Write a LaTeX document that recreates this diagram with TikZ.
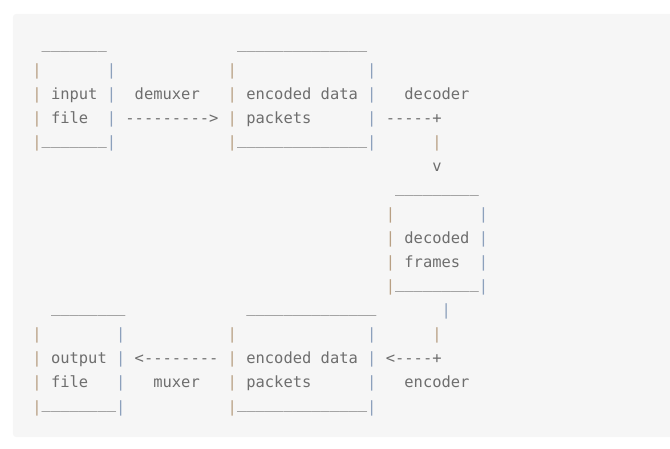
\documentclass[tikz,border=0pt]{standalone}
\usepackage{fontspec}
\setmonofont{DejaVu Sans Mono}
\definecolor{codegray}{HTML}{6E6E6E}
\definecolor{codebg}{HTML}{F6F6F6}
\definecolor{pipetan}{HTML}{B8A084}
\definecolor{pipeblue}{HTML}{8CA0BC}
\tikzset{
  ch/.style={anchor=base west,inner sep=0pt,outer sep=0pt,text=codegray,
    font=\ttfamily\fontsize{15.45}{24}\selectfont},
  ln/.style={ch,yshift=3.5pt},
  pipel/.style={ch,text=pipetan},
  piper/.style={ch,text=pipeblue},
}
\begin{document}
\begin{tikzpicture}[x=9.3pt,y=-24pt]
  \useasboundingbox (-32.4pt,52pt) rectangle (637.6pt,-397pt);
  \fill[codebg,rounded corners=3pt] (-19.4pt,38pt) rectangle (645pt,-385pt);
  % box sides and the bars of the flow
  \foreach \c/\r/\s [count=\i] in {0/1/l,8/1/r,21/1/l,36/1/r, 0/2/l,8/2/r,21/2/l,36/2/r,
      0/3/l,8/3/r,21/3/l,36/3/r, 0/4/l,8/4/r,21/4/l,36/4/r,43/4/l,
      38/7/l,48/7/r, 38/8/l,48/8/r, 38/9/l,48/9/r, 38/10/l,48/10/r, 44/11/r,
      0/12/l,9/12/r,21/12/l,36/12/r,43/12/l, 0/13/l,9/13/r,21/13/l,36/13/r,
      0/14/l,9/14/r,21/14/l,36/14/r, 0/15/l,9/15/r,21/15/l,36/15/r}
    \node[pipe\s] (p\i) at (\c,\r) {|};
  % box tops and bottoms
  \foreach \c/\r/\n [count=\i] in {1/0/7,22/0/14, 1/4/7,22/4/14,
      39/6/9, 39/10/9, 2/11/8,23/11/14, 1/15/8,22/15/14}
    \node[ln] (u\i) at (\c,\r) {\foreach \k in {1,...,\n}{\_}};
  % labels and arrows
  \foreach \c/\r/\t [count=\i] in {2/2/input, 11/2/demuxer, 23/2/encoded data,
      40/2/decoder, 2/3/file, 10/3/--------->, 23/3/packets, 38/3/-----+,
      43/5/v, 40/8/decoded, 40/9/frames,
      2/13/output, 11/13/<--------, 23/13/encoded data, 38/13/<----+,
      2/14/file, 13/14/muxer, 23/14/packets, 40/14/encoder}
    \node[ch] (w\i) at (\c,\r) {\t};
\end{tikzpicture}
\end{document}
